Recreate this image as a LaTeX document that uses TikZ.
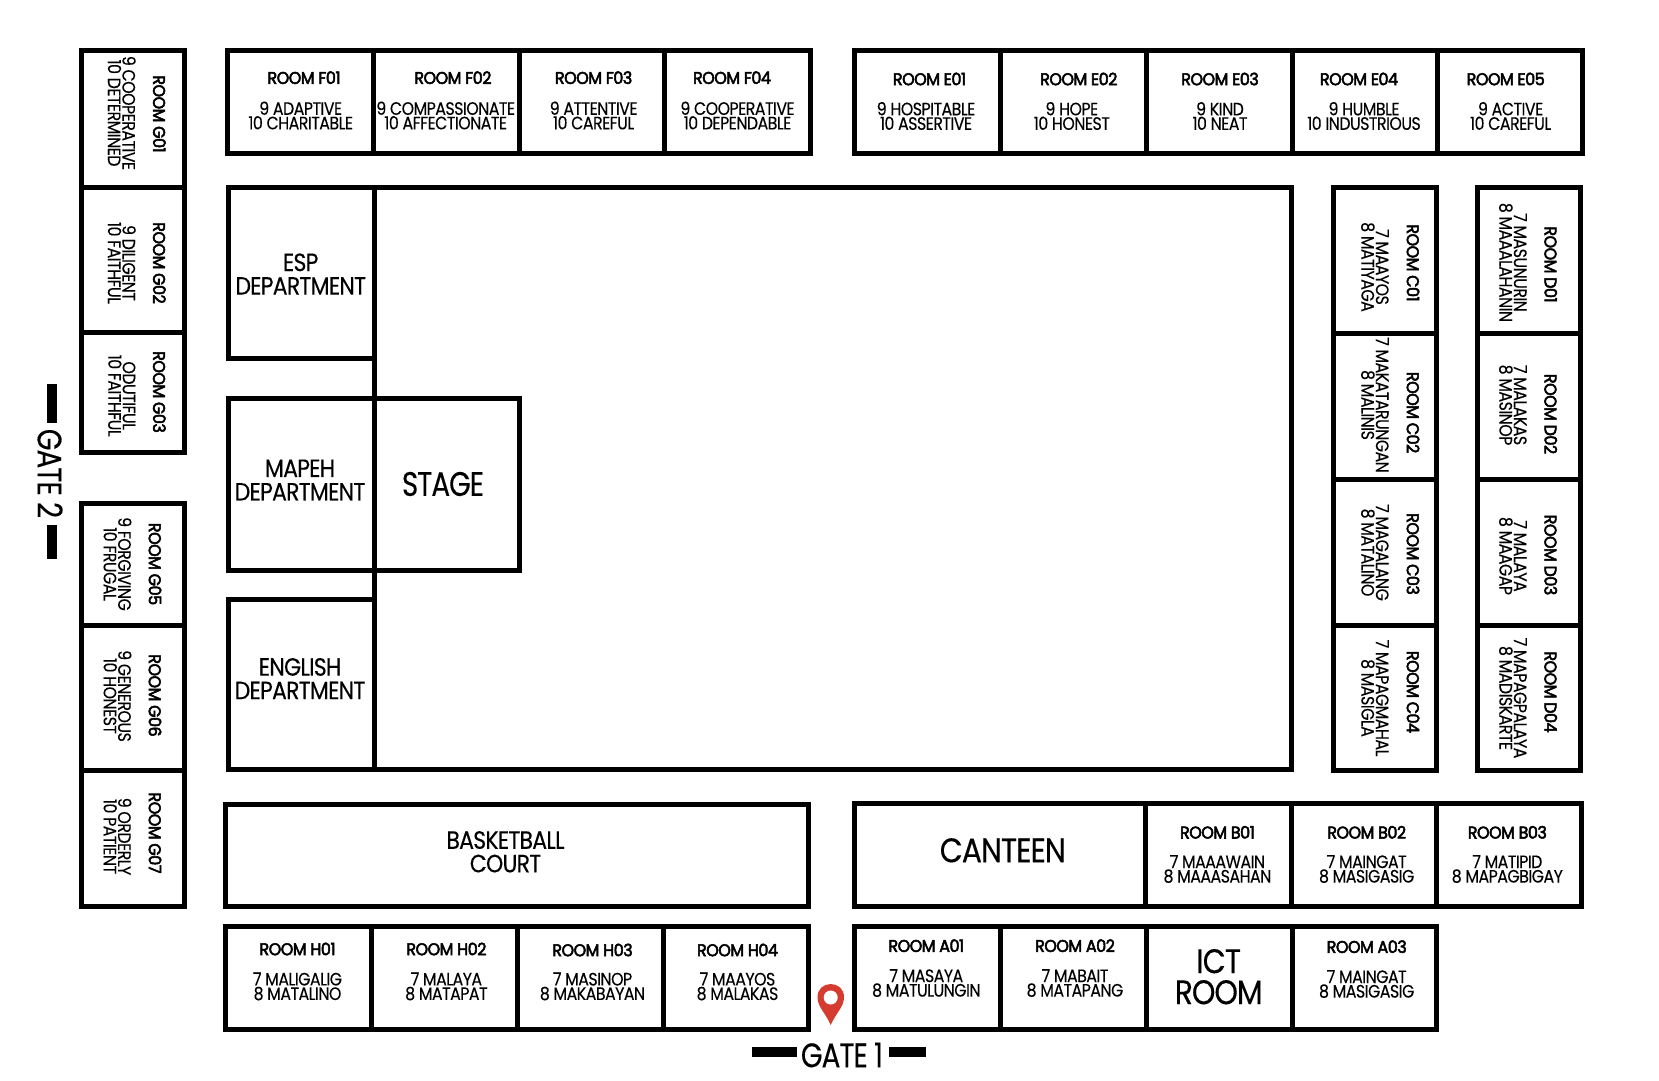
\documentclass[tikz,border=0pt]{standalone}
\usepackage{fontspec}
\setmainfont{Poppins}
\newfontfamily\subfont[FakeStretch=0.88,FakeBold=0.15,LetterSpace=-3]{Poppins}
\newfontfamily\bigfont[FakeStretch=0.88,FakeBold=0.25,LetterSpace=-3]{Poppins}
\newfontfamily\gatefont[FakeStretch=0.82,FakeBold=0.25,LetterSpace=-3]{Poppins}
\newfontfamily\titlefont[FakeStretch=0.94,FakeBold=3,LetterSpace=-3]{Poppins}
\definecolor{wallc}{HTML}{000000}
\definecolor{pinred}{HTML}{D63B30}
\tikzset{
  wall/.style={draw=wallc, line width=5pt, fill=white},
  bar/.style={fill=wallc},
  roomname/.style={inner sep=0pt, align=center, font=\titlefont\fontsize{17}{17}\selectfont},
  roomsub/.style={inner sep=0pt, align=center, font=\subfont\fontsize{18}{14.5}\selectfont},
  bigname/.style={inner sep=0pt, align=center, font=\bigfont\fontsize{25}{23.5}\selectfont},
  hugename/.style={inner sep=0pt, align=center, font=\bigfont\fontsize{34}{31}\selectfont},
  gatename/.style={inner sep=0pt, align=center, font=\gatefont\fontsize{34}{31}\selectfont},
}
\begin{document}
\begin{tikzpicture}[x=1pt, y=-1pt]
    \useasboundingbox[fill=white] (0,0) rectangle (1659,1080);
    % main hall and stage
    \draw[wall] (374,187) rectangle (1291,769.5);
    \draw[wall] (228.5,187) rectangle (374,358.3);
    \draw[wall] (228.5,398.5) rectangle (374,570);
    \draw[wall] (374,398.5) rectangle (519,570);
    \draw[wall] (228.5,599) rectangle (374,769.5);
    \node[bigname] (esp) at (300.7,274) {ESP\\DEPARTMENT};
    \node[bigname] (mapeh) at (300,480) {MAPEH\\DEPARTMENT};
    \node[bigname] (english) at (300,678.6) {ENGLISH\\DEPARTMENT};
    \node[gatename] (stage) at (443,484) {STAGE};
    % row F
    \draw[wall] (227.5,50.5) rectangle (373.5,153.5);
    \draw[wall] (373.5,50.5) rectangle (519,153.5);
    \draw[wall] (519,50.5) rectangle (664.5,153.5);
    \draw[wall] (664.5,50.5) rectangle (810,153.5);
    \node[roomname] (f01) at (304,77.7) {ROOM F01};
    \node[roomsub] (f01s) at (300.7,115.5) {9 ADAPTIVE\\10 CHARITABLE};
    \node[roomname] (f02) at (452.9,77.7) {ROOM F02};
    \node[roomsub] (f02s) at (445.7,115.5) {9 COMPASSIONATE\\10 AFFECTIONATE};
    \node[roomname] (f03) at (593.6,77.7) {ROOM F03};
    \node[roomsub] (f03s) at (593.6,115.5) {9 ATTENTIVE\\10 CAREFUL};
    \node[roomname] (f04) at (732,77.7) {ROOM F04};
    \node[roomsub] (f04s) at (737.5,115.5) {9 COOPERATIVE\\10 DEPENDABLE};
    % row E
    \draw[wall] (854.5,50.5) rectangle (1000,153.5);
    \draw[wall] (1000,50.5) rectangle (1146,153.5);
    \draw[wall] (1146,50.5) rectangle (1292,153.5);
    \draw[wall] (1292,50.5) rectangle (1437,153.5);
    \draw[wall] (1437,50.5) rectangle (1582.5,153.5);
    \node[roomname] (e01) at (929.5,79) {ROOM E01};
    \node[roomsub] (e01s) at (926,116) {9 HOSPITABLE\\10 ASSERTIVE};
    \node[roomname] (e02) at (1078.8,79) {ROOM E02};
    \node[roomsub] (e02s) at (1071.8,116) {9 HOPE\\10 HONEST};
    \node[roomname] (e03) at (1220,79) {ROOM E03};
    \node[roomsub] (e03s) at (1220,116) {9 KIND\\10 NEAT};
    \node[roomname] (e04) at (1359,79) {ROOM E04};
    \node[roomsub] (e04s) at (1364,116) {9 HUMBLE\\10 INDUSTRIOUS};
    \node[roomname] (e05) at (1505.7,79) {ROOM E05};
    \node[roomsub] (e05s) at (1510.6,116) {9 ACTIVE\\10 CAREFUL};
    % column G
    \draw[wall] (81.5,50.5) rectangle (184.5,187);
    \draw[wall] (81.5,187) rectangle (184.5,332.5);
    \draw[wall] (81.5,332.5) rectangle (184.5,452.5);
    \draw[wall] (81.5,503.5) rectangle (184.5,625);
    \draw[wall] (81.5,625) rectangle (184.5,770);
    \draw[wall] (81.5,770) rectangle (184.5,906.5);
    \node[roomname, rotate=-90] (g01) at (159.3,114) {ROOM G01};
    \node[roomsub, rotate=-90] (g01s) at (121.8,113) {9 COOPERATIVE\\10 DETERMINED};
    \node[roomname, rotate=-90] (g02) at (159.3,263) {ROOM G02};
    \node[roomsub, rotate=-90] (g02s) at (121.8,263) {9 DILIGENT\\10 FAITHFUL};
    \node[roomname, rotate=-90] (g03) at (159.3,392) {ROOM G03};
    \node[roomsub, rotate=-90] (g03s) at (121.8,395.7) {ODUTIFUL\\10 FAITHFUL};
    \node[roomname, rotate=-90] (g05) at (155,564) {ROOM G05};
    \node[roomsub, rotate=-90] (g05s) at (117.5,564) {9 FORGIVING\\10 FRUGAL};
    \node[roomname, rotate=-90] (g06) at (155,695.5) {ROOM G06};
    \node[roomsub, rotate=-90] (g06s) at (117.5,696) {9 GENEROUS\\10 HONEST};
    \node[roomname, rotate=-90] (g07) at (155,833) {ROOM G07};
    \node[roomsub, rotate=-90] (g07s) at (117.5,836.5) {9 ORDERLY\\10 PATIENT};
    % column C
    \draw[wall] (1333.5,187.5) rectangle (1436.5,333);
    \draw[wall] (1333.5,333) rectangle (1436.5,479);
    \draw[wall] (1333.5,479) rectangle (1436.5,625);
    \draw[wall] (1333.5,625) rectangle (1436.5,770.5);
    \node[roomname, rotate=-90] (c01) at (1413,263) {ROOM C01};
    \node[roomsub, rotate=-90] (c01s) at (1375,267) {7 MAAYOS\\8 MATIYAGA};
    \node[roomname, rotate=-90] (c02) at (1413,412.6) {ROOM C02};
    \node[roomsub, rotate=-90] (c02s) at (1375,405) {7 MAKATARUNGAN\\8 MALINIS};
    \node[roomname, rotate=-90] (c03) at (1413,554) {ROOM C03};
    \node[roomsub, rotate=-90] (c03s) at (1375,552.5) {7 MAGALANG\\8 MATALINO};
    \node[roomname, rotate=-90] (c04) at (1413,692) {ROOM C04};
    \node[roomsub, rotate=-90] (c04s) at (1375,698) {7 MAPAGMAHAL\\8 MASIGLA};
    % column D
    \draw[wall] (1477.5,187.5) rectangle (1580.5,333);
    \draw[wall] (1477.5,333) rectangle (1580.5,479);
    \draw[wall] (1477.5,479) rectangle (1580.5,625);
    \draw[wall] (1477.5,625) rectangle (1580.5,770.5);
    \node[roomname, rotate=-90] (d01) at (1550.7,264.5) {ROOM D01};
    \node[roomsub, rotate=-90] (d01s) at (1513,262.5) {7 MASUNURIN\\8 MAAALAHANIN};
    \node[roomname, rotate=-90] (d02) at (1550.7,414) {ROOM D02};
    \node[roomsub, rotate=-90] (d02s) at (1513,405) {7 MALAKAS\\8 MASINOP};
    \node[roomname, rotate=-90] (d03) at (1550.7,555) {ROOM D03};
    \node[roomsub, rotate=-90] (d03s) at (1513,556) {7 MALAYA\\8 MAAGAP};
    \node[roomname, rotate=-90] (d04) at (1550.7,692) {ROOM D04};
    \node[roomsub, rotate=-90] (d04s) at (1513,698) {7 MAPAGPALAYA\\8 MADISKARTE};
    % court, canteen, row B
    \draw[wall] (225.5,804) rectangle (808,906.5);
    \node[bigname] (court) at (505.5,851.8) {BASKETBALL\\COURT};
    \draw[wall] (854.5,803.5) rectangle (1145,906.5);
    \draw[wall] (1145,803.5) rectangle (1291,906.5);
    \draw[wall] (1291,803.5) rectangle (1436.5,906.5);
    \draw[wall] (1436.5,803.5) rectangle (1581.5,906.5);
    \node[hugename] (canteen) at (1002.8,850.3) {CANTEEN};
    \node[roomname] (b01) at (1217.4,832.3) {ROOM B01};
    \node[roomsub] (b01s) at (1217.4,869) {7 MAAAWAIN\\8 MAAASAHAN};
    \node[roomname] (b02) at (1366.7,832.3) {ROOM B02};
    \node[roomsub] (b02s) at (1366.7,869) {7 MAINGAT\\8 MASIGASIG};
    \node[roomname] (b03) at (1507.3,832.3) {ROOM B03};
    \node[roomsub] (b03s) at (1507.3,869) {7 MATIPID\\8 MAPAGBIGAY};
    % row H
    \draw[wall] (225.5,926.5) rectangle (371,1029.5);
    \draw[wall] (371,926.5) rectangle (517,1029.5);
    \draw[wall] (517,926.5) rectangle (663.5,1029.5);
    \draw[wall] (663.5,926.5) rectangle (808,1029.5);
    \node[roomname] (h01) at (297.5,949) {ROOM H01};
    \node[roomsub] (h01s) at (297.5,986.4) {7 MALIGALIG\\8 MATALINO};
    \node[roomname] (h02) at (446.4,949) {ROOM H02};
    \node[roomsub] (h02s) at (446.4,986.4) {7 MALAYA\\8 MATAPAT};
    \node[roomname] (h03) at (592.5,950) {ROOM H03};
    \node[roomsub] (h03s) at (592.5,986.4) {7 MASINOP\\8 MAKABAYAN};
    \node[roomname] (h04) at (737.5,950) {ROOM H04};
    \node[roomsub] (h04s) at (737.5,986.4) {7 MAAYOS\\8 MALAKAS};
    % row A
    \draw[wall] (854.5,926.5) rectangle (1000.5,1029.5);
    \draw[wall] (1000.5,926.5) rectangle (1146,1029.5);
    \draw[wall] (1146,926.5) rectangle (1292,1029.5);
    \draw[wall] (1292,926.5) rectangle (1436.5,1029.5);
    \node[roomname] (a01) at (926.3,945.7) {ROOM A01};
    \node[roomsub] (a01s) at (926.3,983) {7 MASAYA\\8 MATULUNGIN};
    \node[roomname] (a02) at (1075,945.7) {ROOM A02};
    \node[roomsub] (a02s) at (1075,983) {7 MABAIT\\8 MATAPANG};
    \node[hugename] (ict) at (1218.7,976.7) {ICT\\ROOM};
    \node[roomname] (a03) at (1366.7,946.7) {ROOM A03};
    \node[roomsub] (a03s) at (1366.7,984) {7 MAINGAT\\8 MASIGASIG};
    % gates
    \fill[bar] (752,1047) rectangle (797,1057);
    \fill[bar] (889,1047) rectangle (926,1057);
    \node[gatename] (gate1) at (842,1055) {GATE 1};
    \fill[bar] (47,384) rectangle (57,423);
    \fill[bar] (47,525) rectangle (57,558.5);
    \node[gatename, rotate=-90] (gate2) at (50,473.5) {GATE 2};
    % pin
    \fill[pinred] (830.7,1025) .. controls (825,1012) and (817.5,1007) .. (817.5,997) .. controls (817.5,989) and (823.5,984) .. (830.7,984) .. controls (838,984) and (844,989) .. (844,997) .. controls (844,1007) and (836.5,1012) .. (830.7,1025) -- cycle;
    \fill[white] (830.7,997.5) circle[radius=7];
\end{tikzpicture}
\end{document}
